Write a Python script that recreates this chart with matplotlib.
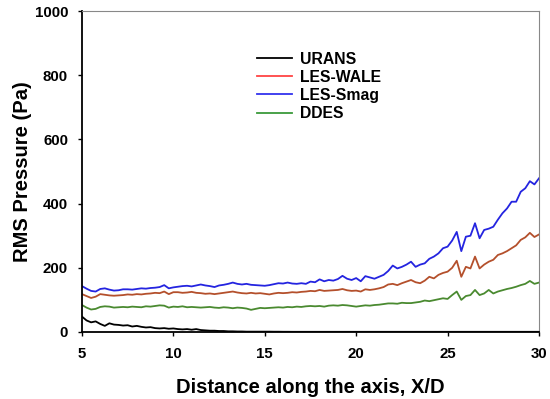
import numpy as np
import matplotlib
matplotlib.use("Agg")
import matplotlib.pyplot as plt
from matplotlib.lines import Line2D

plt.rcParams['font.family'] = ['Liberation Sans', 'DejaVu Sans']

# sample positions along the axis (X/D), every 0.25
x_pos = np.arange(5.0, 30.001, 0.25)

urans = [48, 36, 30, 33,
         25, 19, 27, 23,
         22, 20, 21, 17,
         19, 16, 14, 15,
         12, 11, 12, 10,
         11, 9, 8, 9,
         7, 9, 6, 5,
         4, 4, 3, 3,
         2, 2, 1.5, 1.5,
         1, 1, 1, 1,
         1, 1, 0.8, 0.8,
         0.6, 0.6, 0.5, 0.5,
         0.5, 0.5, 0.5, 0.5,
         0.5, 0.5, 0.5, 0.5,
         0.5, 0.5, 0.5, 0.5,
         0.5, 0.5, 0.5, 0.5,
         0.5, 0.5, 0.5, 0.5,
         0.5, 0.5, 0.5, 0.5,
         0.5, 0.5, 0.5, 0.5,
         0.5, 0.5, 0.5, 0.5,
         0.5, 0.5, 0.5, 0.5,
         0.5, 0.5, 0.5, 0.5,
         0.5, 0.5, 0.5, 0.5,
         0.5, 0.5, 0.5, 0.5,
         0.5, 0.5, 0.5, 0.5,
         0.5]

les_wale = [118, 112, 106, 110,
            118, 116, 114, 113,
            114, 115, 117, 116,
            118, 117, 119, 120,
            122, 121, 126, 118,
            124, 124, 122, 123,
            125, 122, 121, 119,
            120, 118, 120, 122,
            124, 126, 123, 121,
            120, 122, 120, 121,
            119, 117, 120, 122,
            121, 122, 124, 123,
            125, 126, 128, 127,
            131, 128, 129, 130,
            131, 134, 130, 128,
            129, 126, 133, 131,
            133, 136, 140, 148,
            150, 146, 152, 157,
            162, 155, 152, 160,
            172, 167, 178, 184,
            188, 200, 222, 172,
            203, 198, 235, 198,
            210, 219, 225, 240,
            245, 252, 261, 270,
            287, 295, 309, 296,
            304]

les_smag = [143, 135, 128, 126,
            134, 136, 132, 129,
            130, 133, 133, 132,
            134, 136, 135, 137,
            138, 140, 146, 136,
            139, 141, 143, 144,
            142, 145, 148, 145,
            143, 140, 145, 147,
            150, 154, 150, 148,
            150, 147, 146, 145,
            144, 146, 149, 152,
            151, 154, 151, 150,
            152, 150, 157, 155,
            164, 158, 162, 160,
            165, 175, 166, 162,
            168, 158, 174, 170,
            166, 172, 178, 190,
            207, 198, 203, 210,
            219, 203, 210, 214,
            228, 235, 245, 261,
            266, 285, 312, 252,
            297, 300, 339, 292,
            318, 322, 328, 350,
            370, 385, 406, 406,
            437, 448, 470, 460,
            479]

ddes = [84, 76, 70, 72,
        78, 80, 79, 76,
        77, 78, 77, 79,
        78, 77, 80, 79,
        81, 83, 82, 76,
        79, 78, 80, 77,
        78, 77, 76, 77,
        78, 76, 75, 77,
        76, 74, 76, 75,
        73, 69, 72, 75,
        74, 75, 76, 77,
        76, 78, 77, 79,
        78, 80, 81, 80,
        81, 79, 82, 83,
        82, 84, 83, 81,
        79, 81, 83, 82,
        84, 85, 87, 89,
        89, 88, 91, 90,
        90, 92, 94, 98,
        96, 99, 102, 105,
        103, 115, 126, 100,
        112, 115, 131, 115,
        120, 131, 120, 126,
        130, 134, 137, 141,
        146, 150, 159, 150,
        154]

labels = ["URANS", "LES-WALE", "LES-Smag", "DDES"]
plot_colors = ["black", "#b4502c", "#2424e0", "#4a8a30"]
legend_colors = ["black", "#ff4444", "#3333ee", "#3a9a3a"]

fig = plt.figure(figsize=(5.5, 3.99), dpi=100)
ax = fig.add_axes([0.149, 0.168, 0.831, 0.804])

for series, c in zip([urans, les_wale, les_smag, ddes], plot_colors):
    ax.plot(x_pos, series, color=c, linewidth=1.3)

ax.set_xlim(5, 30)
ax.set_ylim(0, 1000)
ax.set_xticks([5, 10, 15, 20, 25, 30])
ax.set_yticks([0, 200, 400, 600, 800, 1000])
ax.tick_params(direction="out", length=3, width=1, labelsize=10.8)
ax.tick_params(axis="x", pad=8)
ax.tick_params(axis="y", pad=7)
for lab in ax.get_xticklabels() + ax.get_yticklabels():
    lab.set_fontweight("bold")

ax.spines["left"].set_linewidth(1.3)
ax.spines["bottom"].set_linewidth(1.3)
ax.spines["top"].set_color("#888888")
ax.spines["right"].set_color("#888888")

ax.set_xlabel("Distance along the axis, X/D", fontsize=14.5, fontweight="bold")
ax.set_ylabel("RMS Pressure (Pa)", fontsize=14.5, fontweight="bold")
ax.xaxis.set_label_coords(0.5, -0.145)
ax.yaxis.set_label_coords(-0.11, 0.5)

handles = [Line2D([0], [0], color=c, linewidth=1.3) for c in legend_colors]
ax.legend(handles, labels, loc="upper left", bbox_to_anchor=(0.383, 0.874),
          frameon=False, prop={"weight": "bold", "size": 11.3},
          borderpad=0, borderaxespad=0,
          handlelength=2.23, handletextpad=0.51, labelspacing=0.2)

fig.savefig("out.png", dpi=100)
